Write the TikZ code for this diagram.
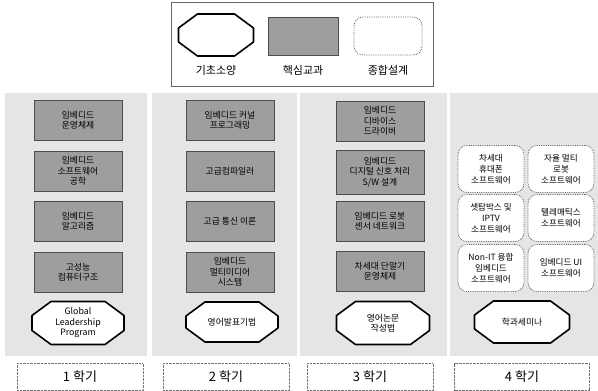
\documentclass[tikz,border=0pt]{standalone}
\usepackage{fontspec}
\setmainfont{Noto Sans CJK KR}
\usetikzlibrary{calc}
\tikzset{
  core/.style={draw=black!70, fill=black!38, minimum width=88pt, minimum height=40pt, align=center, inner sep=1pt, font=\fontsize{8.8}{10.5}\selectfont},
  design/.style={draw=black!60, densely dotted, thick, rounded corners=9pt, fill=white, minimum width=66pt, minimum height=47pt, align=center, inner sep=0pt, font=\fontsize{8.6}{11}\selectfont},
  panel/.style={fill=black!10, draw=none},
  term/.style={draw=black!55, densely dotted, fill=white, minimum width=126pt, minimum height=27pt, font=\fontsize{13}{15}\selectfont},
  basicnode/.style={inner sep=1pt, align=center, font=\fontsize{8.8}{10.5}\selectfont},
  octline/.style={draw=black, line width=1.6pt, fill=white, line join=round},
  legendlabel/.style={font=\fontsize{11}{13}\selectfont},
}
\newcommand{\octabox}[6]{%
  \path[octline] ($(#2,#3)+(-#4/2*1pt+19pt,#5/2*1pt)$) -- ($(#2,#3)+(#4/2*1pt-19pt,#5/2*1pt)$) -- ($(#2,#3)+(#4/2*1pt,#5/2*1pt-14pt)$) -- ($(#2,#3)+(#4/2*1pt,-#5/2*1pt+14pt)$) -- ($(#2,#3)+(#4/2*1pt-19pt,-#5/2*1pt)$) -- ($(#2,#3)+(-#4/2*1pt+19pt,-#5/2*1pt)$) -- ($(#2,#3)+(-#4/2*1pt,-#5/2*1pt+14pt)$) -- ($(#2,#3)+(-#4/2*1pt,#5/2*1pt-14pt)$) -- cycle;
  \node[basicnode] (#1) at (#2,#3) {#6};}
\begin{document}
\begin{tikzpicture}[x=1pt,y=-1pt]
\useasboundingbox (0,0) rectangle (598,391);
\fill[white] (0,0) rectangle (598,391);
% legend
\draw[black!60] (171,2) rectangle (433,86);
\octabox{lo}{216}{35}{75}{42}{}
\node[core, minimum width=70pt, minimum height=38pt] (lc) at (303,36) {};
\node[design, minimum width=68pt, minimum height=38pt] (ld) at (388,36) {};
\node[legendlabel] (lt1) at (216,70) {기초소양};
\node[legendlabel] (lt2) at (303,70) {핵심교과};
\node[legendlabel] (lt3) at (388,70) {종합설계};
% panels
\fill[panel] (5,93) rectangle (147,356);
\fill[panel] (152,93) rectangle (297,356);
\fill[panel] (300,93) rectangle (447,356);
\fill[panel] (450,93) rectangle (598,356);
% column 1
\node[core] (a1) at (78,120) {임베디드\\운영체제};
\node[core] (a2) at (78,171) {임베디드\\소프트웨어\\공학};
\node[core] (a3) at (78,221) {임베디드\\알고리즘};
\node[core] (a4) at (78,272) {고성능\\컴퓨터구조};
\octabox{a5}{78}{323}{92}{43}{Global\\Leadership\\Program}
% column 2
\node[core] (b1) at (230,120) {임베디드 커널\\프로그래밍};
\node[core] (b2) at (230,171) {고급컴파일러};
\node[core] (b3) at (230,221) {고급 통신 이론};
\node[core] (b4) at (230,272) {임베디드\\멀티미디어\\시스템};
\octabox{b5}{232}{322}{92}{40}{영어발표기법}
% column 3
\node[core] (c1) at (380,121) {임베디드\\디바이스\\드라이버};
\node[core, minimum height=44pt] (c2) at (380,172) {임베디드\\디지털 신호 처리\\S/W 설계};
\node[core] (c3) at (380,221) {임베디드 로봇\\센서 네트워크};
\node[core] (c4) at (380,271) {차세대 단말기\\운영체제};
\octabox{c5}{383}{323}{93}{43}{영어논문\\작성법}
% column 4
\node[design] (d1) at (491,169) {차세대\\휴대폰\\소프트웨어};
\node[design] (d2) at (561,169) {자율 멀티\\로봇\\소프트웨어};
\node[design] (d3) at (491,218) {셋탑박스 및\\IPTV\\소프트웨어};
\node[design] (d4) at (561,218) {텔레매틱스\\소프트웨어};
\node[design] (d5) at (491,268) {Non-IT 융합\\임베디드\\소프트웨어};
\node[design] (d6) at (561,268) {임베디드 UI\\소프트웨어};
\octabox{d7}{522}{322}{95}{42}{학과세미나}
% terms
\node[term] (t1) at (80,377) {1 학기};
\node[term] (t2) at (226,377) {2 학기};
\node[term] (t3) at (370,377) {3 학기};
\node[term, minimum width=135pt] (t4) at (522,377) {4 학기};
\end{tikzpicture}
\end{document}
